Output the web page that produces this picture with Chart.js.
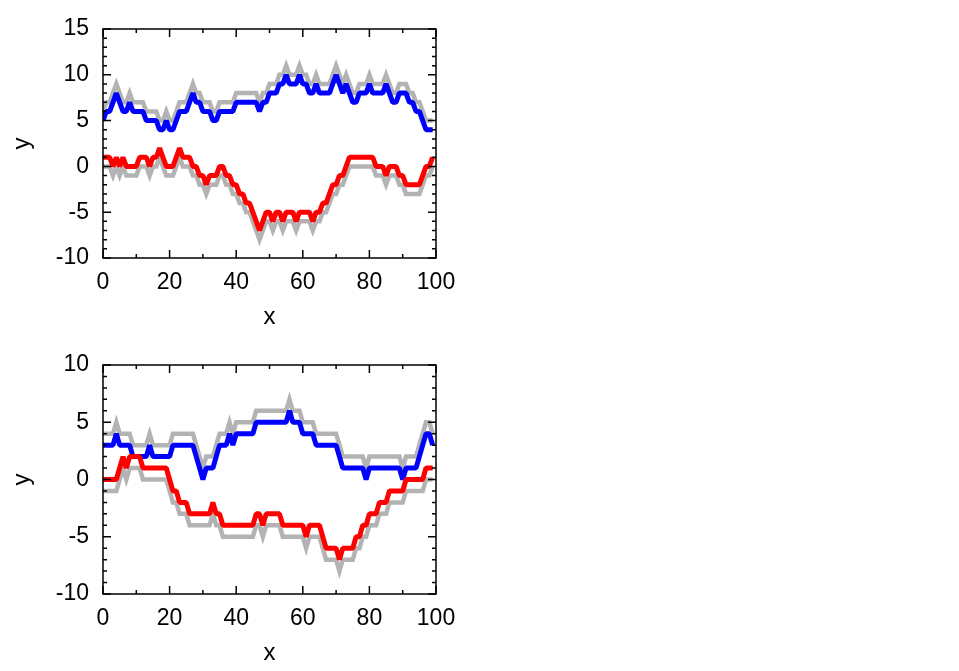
<!DOCTYPE html>
<html>
<head>
<meta charset="utf-8">
<script src="https://cdn.jsdelivr.net/npm/chart.js@4/dist/chart.umd.min.js"></script>
<style>
    html, body { margin: 0; padding: 0; background: #fff; }
    body { width: 959px; height: 671px; position: relative; overflow: hidden; }
    canvas { position: absolute; left: 0; }
    #topChart { top: 0; }
    #bottomChart { top: 336px; }
</style>
</head>
<body>
<canvas id="topChart" width="480" height="335"></canvas>
<canvas id="bottomChart" width="480" height="335"></canvas>
<script>
const xTicks = [0, 20, 40, 60, 80, 100];
const topYTicks = [-10, -5, 0, 5, 10, 15];
const bottomYTicks = [-10, -5, 0, 5, 10];

// upper panel
const topBlue = [
    5, 6, 6, 7, 8, 7, 6, 6, 7, 6,
    6, 6, 6, 5, 5, 5, 5, 4, 4, 5,
    4, 4, 5, 6, 6, 6, 7, 8, 7, 7,
    6, 6, 6, 5, 5, 6, 6, 6, 6, 6,
    7, 7, 7, 7, 7, 7, 7, 6, 7, 7,
    8, 8, 8, 9, 9, 10, 9, 9, 9, 10,
    9, 9, 8, 8, 9, 8, 8, 8, 8, 9,
    10, 9, 8, 9, 8, 7, 7, 8, 8, 8,
    9, 8, 8, 8, 8, 9, 8, 7, 7, 8,
    8, 8, 7, 7, 6, 6, 5, 4, 4, 4
];
const topBlueShade = [
    6, 7, 7, 8, 9, 8, 7, 7, 8, 7,
    7, 7, 7, 6, 6, 6, 6, 5, 5, 6,
    5, 5, 6, 7, 7, 7, 8, 9, 8, 8,
    7, 7, 7, 6, 6, 7, 7, 7, 7, 7,
    8, 8, 8, 8, 8, 8, 8, 7, 8, 8,
    9, 9, 9, 10, 10, 11, 10, 10, 10, 11,
    10, 10, 9, 9, 10, 9, 9, 9, 9, 10,
    11, 10, 9, 10, 9, 8, 8, 9, 9, 9,
    10, 9, 9, 9, 9, 10, 9, 8, 8, 9,
    9, 9, 8, 8, 7, 7, 6, 5, 5, 5
];
const topRed = [
    1, 1, 1, 0, 1, 0, 1, 0, 0, 0,
    0, 1, 1, 1, 0, 1, 1, 2, 1, 0,
    0, 0, 1, 2, 1, 1, 1, 0, 0, -1,
    -1, -2, -1, -1, -1, 0, 0, -1, -1, -2,
    -2, -3, -3, -4, -4, -5, -6, -7, -6, -5,
    -5, -6, -5, -5, -6, -5, -5, -5, -6, -5,
    -5, -5, -5, -6, -5, -5, -4, -4, -3, -2,
    -2, -1, -1, 0, 1, 1, 1, 1, 1, 1,
    1, 1, 0, 0, 0, -1, 0, 0, 0, -1,
    -1, -2, -2, -2, -2, -2, -1, 0, 0, 1
];
const topRedShade = [
    0, 0, 0, -1, 0, -1, 0, -1, -1, -1,
    -1, 0, 0, 0, -1, 0, 0, 1, 0, -1,
    -1, -1, 0, 1, 0, 0, 0, -1, -1, -2,
    -2, -3, -2, -2, -2, -1, -1, -2, -2, -3,
    -3, -4, -4, -5, -5, -6, -7, -8, -7, -6,
    -6, -7, -6, -6, -7, -6, -6, -6, -7, -6,
    -6, -6, -6, -7, -6, -6, -5, -5, -4, -3,
    -3, -2, -2, -1, 0, 0, 0, 0, 0, 0,
    0, 0, -1, -1, -1, -2, -1, -1, -1, -2,
    -2, -3, -3, -3, -3, -3, -2, -1, -1, 0
];

// lower panel
const bottomBlue = [
    3, 3, 3, 3, 4, 3, 3, 3, 3, 2,
    2, 2, 2, 2, 3, 2, 2, 2, 2, 2,
    2, 3, 3, 3, 3, 3, 3, 3, 2, 1,
    0, 1, 1, 1, 2, 3, 3, 3, 4, 3,
    4, 4, 4, 4, 4, 4, 5, 5, 5, 5,
    5, 5, 5, 5, 5, 5, 6, 5, 5, 5,
    4, 4, 4, 4, 3, 3, 3, 3, 3, 3,
    3, 2, 1, 1, 1, 1, 1, 1, 1, 0,
    1, 1, 1, 1, 1, 1, 1, 1, 1, 1,
    0, 1, 1, 1, 1, 2, 3, 4, 4, 3
];
const bottomBlueShade = [
    4, 4, 4, 4, 5, 4, 4, 4, 4, 3,
    3, 3, 3, 3, 4, 3, 3, 3, 3, 3,
    3, 4, 4, 4, 4, 4, 4, 4, 3, 2,
    1, 2, 2, 2, 3, 4, 4, 4, 5, 4,
    5, 5, 5, 5, 5, 5, 6, 6, 6, 6,
    6, 6, 6, 6, 6, 6, 7, 6, 6, 6,
    5, 5, 5, 5, 4, 4, 4, 4, 4, 4,
    4, 3, 2, 2, 2, 2, 2, 2, 2, 1,
    2, 2, 2, 2, 2, 2, 2, 2, 2, 2,
    1, 2, 2, 2, 2, 3, 4, 5, 5, 4
];
const bottomRed = [
    0, 0, 0, 0, 0, 1, 2, 1, 2, 2,
    2, 2, 1, 1, 1, 1, 1, 1, 1, 1,
    0, -1, -1, -2, -2, -2, -3, -3, -3, -3,
    -3, -3, -3, -2, -3, -3, -4, -4, -4, -4,
    -4, -4, -4, -4, -4, -4, -3, -3, -4, -3,
    -3, -3, -3, -3, -4, -4, -4, -4, -4, -4,
    -4, -5, -4, -4, -4, -4, -5, -6, -6, -6,
    -6, -7, -6, -6, -6, -6, -5, -5, -4, -4,
    -3, -3, -3, -2, -2, -2, -1, -1, -1, -1,
    -1, 0, 0, 0, 0, 0, 0, 1, 1, 1
];
const bottomRedShade = [
    -1, -1, -1, -1, -1, 0, 1, 0, 1, 1,
    1, 1, 0, 0, 0, 0, 0, 0, 0, 0,
    -1, -2, -2, -3, -3, -3, -4, -4, -4, -4,
    -4, -4, -4, -3, -4, -4, -5, -5, -5, -5,
    -5, -5, -5, -5, -5, -5, -4, -4, -5, -4,
    -4, -4, -4, -4, -5, -5, -5, -5, -5, -5,
    -5, -6, -5, -5, -5, -5, -6, -7, -7, -7,
    -7, -8, -7, -7, -7, -7, -6, -6, -5, -5,
    -4, -4, -4, -3, -3, -3, -2, -2, -2, -2,
    -2, -1, -1, -1, -1, -1, -1, 0, 0, 0
];

const colors = {
    blue: '#0000ff',
    red: '#ff0000',
    shade: '#b3b3b3',
    axis: '#000000'
};

Chart.defaults.font.family = '"Liberation Sans", Arial, sans-serif';
Chart.defaults.color = colors.axis;

const toPoints = arr => arr.map((v, i) => ({ x: i, y: v }));

// gnuplot style frame with inward ticks on all four sides
const framePlugin = {
    id: 'frame',
    afterDraw(chart) {
        const { ctx, chartArea: a, scales } = chart;
        ctx.save();
        ctx.strokeStyle = colors.axis;
        ctx.lineWidth = 1.5;
        ctx.beginPath();
        for (let v = scales.x.min; v <= scales.x.max; v += 10) {
            const px = scales.x.getPixelForValue(v);
            const len = v % 20 === 0 ? 8 : 4;
            ctx.moveTo(px, a.bottom); ctx.lineTo(px, a.bottom - len);
            ctx.moveTo(px, a.top); ctx.lineTo(px, a.top + len);
        }
        for (let v = scales.y.min; v <= scales.y.max; v += 1) {
            const py = scales.y.getPixelForValue(v);
            const len = v % 5 === 0 ? 8 : 4;
            ctx.moveTo(a.left, py); ctx.lineTo(a.left + len, py);
            ctx.moveTo(a.right, py); ctx.lineTo(a.right - len, py);
        }
        ctx.stroke();
        ctx.strokeRect(a.left, a.top, a.right - a.left, a.bottom - a.top);
        ctx.restore();
    }
};

function makeChart(id, blue, blueShade, red, redShade, yTicks) {
    const line = (data, color, width, join, order) => ({
        data: toPoints(data),
        borderColor: color,
        borderWidth: width,
        borderJoinStyle: join,
        pointRadius: 0,
        tension: 0,
        fill: false,
        order: order
    });
    return new Chart(document.getElementById(id), {
        type: 'line',
        data: {
            datasets: [
                line(red, colors.red, 5, 'bevel', 0),
                line(blue, colors.blue, 5, 'bevel', 1),
                line(redShade, colors.shade, 4.5, 'miter', 2),
                line(blueShade, colors.shade, 4.5, 'miter', 3)
            ]
        },
        options: {
            responsive: false,
            animation: false,
            layout: { padding: { left: 0, top: 29, right: 44, bottom: 0 } },
            plugins: {
                legend: { display: false },
                tooltip: { enabled: false }
            },
            scales: {
                x: {
                    type: 'linear',
                    min: xTicks[0],
                    max: xTicks[xTicks.length - 1],
                    grid: { display: false, drawTicks: false },
                    border: { display: false },
                    afterBuildTicks: s => { s.ticks = xTicks.map(v => ({ value: v })); },
                    afterFit: s => { s.height = 77; },
                    ticks: { padding: 11, font: { size: 23 }, maxRotation: 0 },
                    title: { display: true, text: 'x', font: { size: 24 }, padding: { top: 0, bottom: 3 } }
                },
                y: {
                    min: yTicks[0],
                    max: yTicks[yTicks.length - 1],
                    grid: { display: false, drawTicks: false },
                    border: { display: false },
                    afterBuildTicks: s => { s.ticks = yTicks.map(v => ({ value: v })); },
                    afterFit: s => { s.width = 103; },
                    ticks: { padding: 14, font: { size: 23 } },
                    title: { display: true, text: 'y', font: { size: 24 }, padding: { top: 8, bottom: 0 } }
                }
            }
        },
        plugins: [framePlugin]
    });
}

makeChart('topChart', topBlue, topBlueShade, topRed, topRedShade, topYTicks);
makeChart('bottomChart', bottomBlue, bottomBlueShade, bottomRed, bottomRedShade, bottomYTicks);
</script>
</body>
</html>
